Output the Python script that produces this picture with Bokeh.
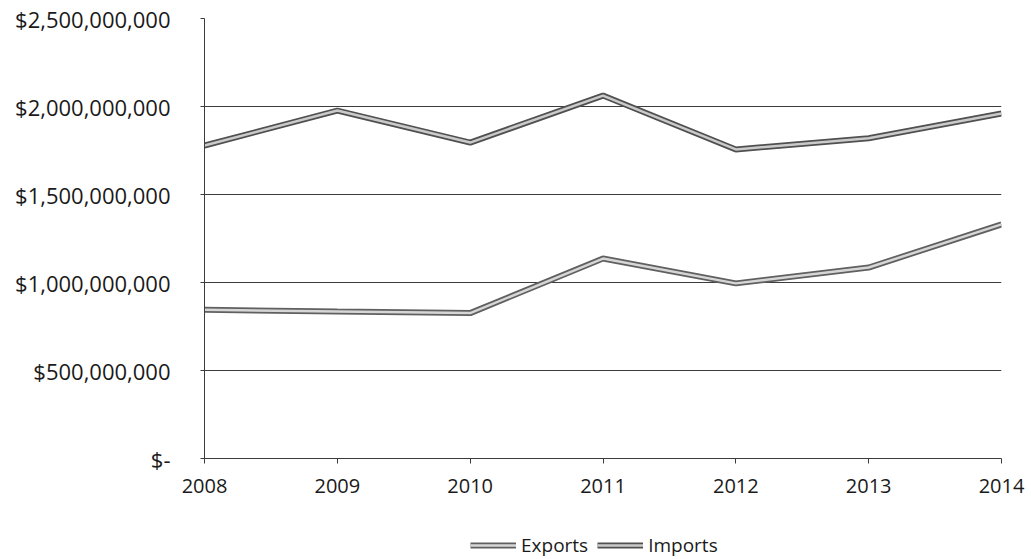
from bokeh.plotting import figure
from bokeh.layouts import column
from bokeh.models import Range1d, Legend, LegendItem, FixedTicker, ColumnDataSource
from bokeh.embed import file_html
from bokeh.resources import INLINE

years = [2008, 2009, 2010, 2011, 2012, 2013, 2014]
exports = [845e6, 835e6, 826e6, 1136e6, 995e6, 1085e6, 1330e6]
imports = [1778e6, 1977e6, 1795e6, 2062e6, 1756e6, 1820e6, 1960e6]
y_ticks = [0, 500e6, 1000e6, 1500e6, 2000e6, 2500e6]
y_tick_labels = ["$-", "$500,000,000", "$1,000,000,000", "$1,500,000,000",
                 "$2,000,000,000", "$2,500,000,000"]

FONT = "Open Sans"
TEXT = "#1a1a1a"
GRID = "#3c3c3c"
EX_OUT, EX_IN = "#606060", "#d6d6d6"
IM_OUT, IM_IN = "#505050", "#cacaca"

p = figure(width=1031, height=515, output_backend="svg", toolbar_location=None,
           x_range=Range1d(2008, 2014), y_range=Range1d(0, 2500e6),
           min_border_left=204, min_border_right=30, min_border_top=18,
           min_border_bottom=57)
p.outline_line_color = None
p.background_fill_color = "white"
p.border_fill_color = "white"

src = ColumnDataSource(dict(year=years, exports=exports, imports=imports))

# each series is a hollow double line: dark outer stroke, light core
p.line("year", "exports", source=src, line_color=EX_OUT, line_width=6)
p.line("year", "exports", source=src, line_color=EX_IN, line_width=2.5)
p.line("year", "imports", source=src, line_color=IM_OUT, line_width=6)
p.line("year", "imports", source=src, line_color=IM_IN, line_width=2.5)

# axes
p.xaxis.ticker = FixedTicker(ticks=years)
p.xaxis.minor_tick_line_color = None
p.xaxis.major_tick_in = 0
p.xaxis.major_tick_out = 5
p.xaxis.axis_line_color = GRID
p.xaxis.major_tick_line_color = GRID
p.xaxis.major_label_text_font = FONT
p.xaxis.major_label_text_font_size = "20px"
p.xaxis.major_label_text_color = TEXT
p.xaxis.major_label_standoff = 15

p.yaxis.ticker = FixedTicker(ticks=y_ticks)
p.yaxis.major_label_overrides = {t: lab for t, lab in zip(y_ticks, y_tick_labels)}
p.yaxis.minor_tick_line_color = None
p.yaxis.major_tick_in = 0
p.yaxis.major_tick_out = 4
p.yaxis.axis_line_color = GRID
p.yaxis.major_tick_line_color = GRID
p.yaxis.major_label_text_font = FONT
p.yaxis.major_label_text_font_size = "22px"
p.yaxis.major_label_text_color = TEXT
p.yaxis.major_label_standoff = 30

p.xgrid.grid_line_color = None
p.ygrid.grid_line_color = GRID
p.ygrid.grid_line_width = 1

# legend strip underneath the chart (its frame lines up with the chart's frame)
leg = figure(width=1031, height=44, output_backend="svg", toolbar_location=None,
             x_range=Range1d(0, 1), y_range=Range1d(0, 1),
             x_axis_type=None, y_axis_type=None, min_border=0)
leg.outline_line_color = None
leg.xgrid.grid_line_color = None
leg.ygrid.grid_line_color = None
offscreen = ColumnDataSource(dict(x=[-2, -1], y=[-2, -2]))
e1 = leg.line("x", "y", source=offscreen, line_color=EX_OUT, line_width=6)
e2 = leg.line("x", "y", source=offscreen, line_color=EX_IN, line_width=2.5)
i1 = leg.line("x", "y", source=offscreen, line_color=IM_OUT, line_width=6)
i2 = leg.line("x", "y", source=offscreen, line_color=IM_IN, line_width=2.5)

legend = Legend(items=[LegendItem(label="Exports", renderers=[e1, e2]),
                       LegendItem(label="Imports", renderers=[i1, i2])],
                orientation="horizontal", location=(266, 1))
legend.border_line_color = None
legend.background_fill_alpha = 0
legend.label_text_font = FONT
legend.label_text_font_size = "19px"
legend.label_text_color = TEXT
legend.glyph_width = 46
legend.glyph_height = 20
legend.label_standoff = 5
legend.spacing = 9
legend.padding = 0
legend.margin = 0
leg.add_layout(legend, "center")

open("out.html", "w").write(file_html(column(p, leg, spacing=0), INLINE))
